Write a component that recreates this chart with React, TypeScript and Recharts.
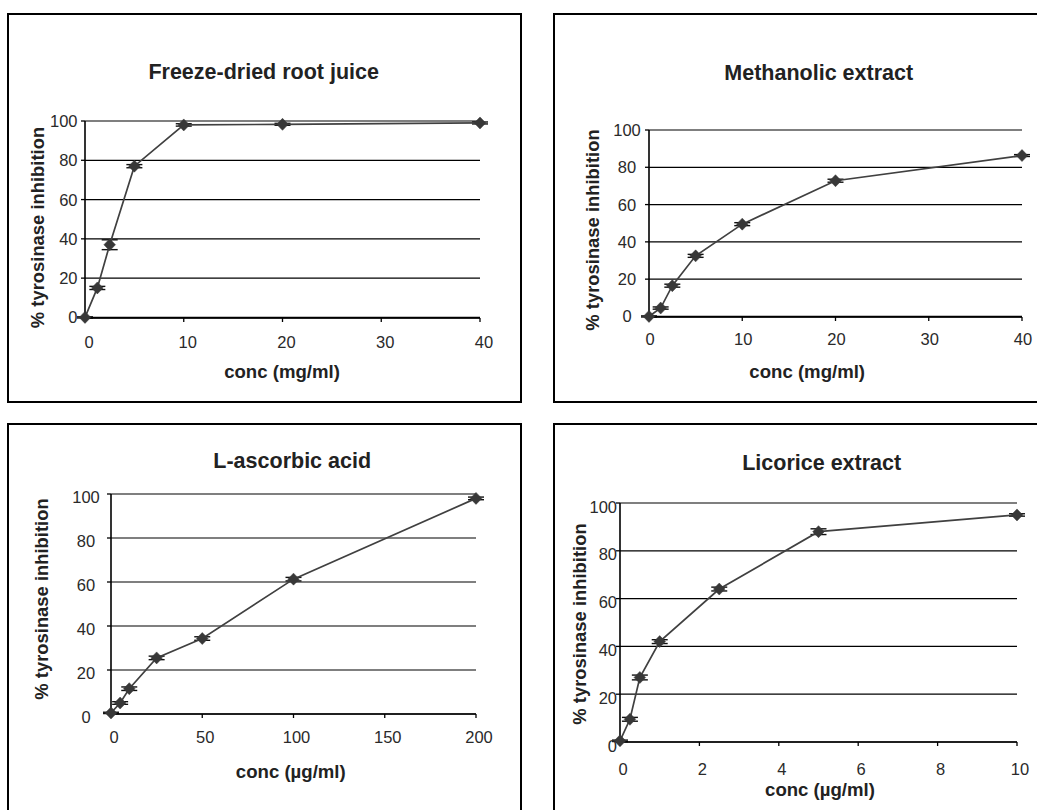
import React from 'react';
import { LineChart, Line, XAxis, YAxis, CartesianGrid, ErrorBar } from 'recharts';

// ---------- data ----------
const freezeConc = [0, 1.25, 2.5, 5, 10, 20, 40];
const freezeInhib = [0, 15, 37, 77, 98, 98.3, 99];
const freezeErr = [0.3, 0.8, 2.5, 0.8, 0.6, 0.5, 0.5];

const methConc = [0, 1.25, 2.5, 5, 10, 20, 40];
const methInhib = [0, 4.5, 16.5, 32.5, 49.5, 72.8, 86.3];
const methErr = [0.3, 0.6, 0.8, 0.8, 0.8, 0.8, 0.5];

const ascConc = [0, 5, 10, 25, 50, 100, 200];
const ascInhib = [0.5, 5, 11.5, 25.5, 34.3, 61.3, 98];
const ascErr = [0.3, 0.6, 0.8, 0.8, 0.8, 0.8, 0.6];

const licConc = [0, 0.25, 0.5, 1, 2.5, 5, 10];
const licInhib = [0.5, 9.5, 27, 42, 64, 88, 95];
const licErr = [0.3, 0.8, 1, 0.8, 0.8, 1.2, 0.5];

const mgTicks = [0, 10, 20, 30, 40];
const ascTicks = [0, 50, 100, 150, 200];
const licTicks = [0, 2, 4, 6, 8, 10];
const pctTicks = [0, 20, 40, 60, 80, 100];

const titles = ['Freeze-dried root juice', 'Methanolic extract', 'L-ascorbic acid', 'Licorice extract'];
const xTitles = ['conc (mg/ml)', 'conc (mg/ml)', 'conc (µg/ml)', 'conc (µg/ml)'];
const yTitle = '% tyrosinase inhibition';

const FONT = '"Liberation Sans", Arial, Helvetica, sans-serif';
const TXT = '#222';

const build = (xs: number[], ys: number[], es: number[]) =>
  xs.map((x, i) => ({ x, y: ys[i], err: es[i] }));

const Diamond = (props: any) => {
  const { cx, cy, index } = props;
  if (cx == null || cy == null) return null;
  return (
    <path
      key={`dm-${index}`}
      d={`M${cx},${cy - 6}L${cx + 5.8},${cy}L${cx},${cy + 6}L${cx - 5.8},${cy}Z`}
      fill="#383838"
      stroke="#383838"
      strokeWidth={0.5}
    />
  );
};

type PanelCfg = {
  data: { x: number; y: number; err: number }[];
  xTicks: number[];
  xMax: number;
  plot: { l: number; t: number; r: number; b: number };
  box: { l: number; t: number; w: number; h: number };
  xdx: number;
  xdy: number;
  yAnchor: 'end' | 'middle';
  ygap: number;
  ydy: number;
  title: string;
  titlePos: [number, number];
  xTitle: string;
  xTitlePos: [number, number];
  yTitlePos: [number, number];
};

const PAD = { l: 70, t: 20, r: 25, b: 45 };

const Panel = ({ cfg }: { cfg: PanelCfg }) => {
  const { plot } = cfg;
  const W = plot.r - plot.l + PAD.l + PAD.r;
  const H = plot.b - plot.t + PAD.t + PAD.b;
  const XTick = (p: any) => (
    <text x={p.x + cfg.xdx} y={p.y + cfg.xdy} textAnchor="middle" fontSize={16.5} fill="#2a2a2a" fontFamily={FONT}>
      {p.payload.value}
    </text>
  );
  const YTick = (p: any) => (
    <text x={p.x - cfg.ygap} y={p.y + cfg.ydy} textAnchor={cfg.yAnchor} fontSize={16.5} fill="#2a2a2a" fontFamily={FONT}>
      {p.payload.value}
    </text>
  );
  return (
    <>
      <div
        style={{
          position: 'absolute',
          left: cfg.box.l,
          top: cfg.box.t,
          width: cfg.box.w,
          height: cfg.box.h,
          border: '2px solid #000',
          boxSizing: 'border-box',
        }}
      />
      <div style={{ position: 'absolute', left: plot.l - PAD.l, top: plot.t - PAD.t, width: W, height: H }}>
        <LineChart width={W} height={H} data={cfg.data} margin={{ top: PAD.t, right: PAD.r, bottom: 0, left: 0 }}>
          <CartesianGrid vertical={false} stroke="#000" strokeWidth={1.2} />
          <XAxis
            type="number"
            dataKey="x"
            domain={[0, cfg.xMax]}
            ticks={cfg.xTicks}
            height={PAD.b}
            tickSize={4}
            tickMargin={0}
            axisLine={{ stroke: '#000', strokeWidth: 1.6 }}
            tickLine={{ stroke: '#000', strokeWidth: 1.3 }}
            tick={XTick}
            interval={0}
          />
          <YAxis
            type="number"
            domain={[0, 100]}
            ticks={pctTicks}
            width={PAD.l}
            tickSize={4}
            tickMargin={0}
            axisLine={{ stroke: '#000', strokeWidth: 1.6 }}
            tickLine={{ stroke: '#000', strokeWidth: 1.3 }}
            tick={YTick}
            interval={0}
          />
          <Line
            type="linear"
            dataKey="y"
            stroke="#404040"
            strokeWidth={1.7}
            dot={Diamond}
            activeDot={false}
            isAnimationActive={false}
          >
            <ErrorBar dataKey="err" width={8} stroke="#111" strokeWidth={1.4} direction="y" />
          </Line>
        </LineChart>
      </div>
      <svg
        style={{ position: 'absolute', left: 0, top: 0, pointerEvents: 'none' }}
        width={1037}
        height={810}
      >
        <text x={cfg.titlePos[0]} y={cfg.titlePos[1]} textAnchor="middle" fontSize={21.5} fontWeight="bold" fill={TXT} fontFamily={FONT}>
          {cfg.title}
        </text>
        <text x={cfg.xTitlePos[0]} y={cfg.xTitlePos[1]} textAnchor="middle" fontSize={18.6} fontWeight="bold" fill={TXT} fontFamily={FONT}>
          {cfg.xTitle}
        </text>
        <text
          x={cfg.yTitlePos[0]}
          y={cfg.yTitlePos[1]}
          textAnchor="middle"
          fontSize={18.4}
          fontWeight="bold"
          fill={TXT}
          fontFamily={FONT}
          transform={`rotate(-90 ${cfg.yTitlePos[0]} ${cfg.yTitlePos[1]})`}
        >
          {yTitle}
        </text>
      </svg>
    </>
  );
};

const panels: PanelCfg[] = [
  {
    data: build(freezeConc, freezeInhib, freezeErr),
    xTicks: mgTicks,
    xMax: 40,
    plot: { l: 85, t: 121, r: 480, b: 318 },
    box: { l: 7, t: 13, w: 515, h: 390 },
    xdx: 4,
    xdy: 25.7,
    yAnchor: 'end',
    ygap: 3.5,
    ydy: 6,
    title: titles[0],
    titlePos: [263.7, 78.5],
    xTitle: xTitles[0],
    xTitlePos: [282, 377.7],
    yTitlePos: [43.5, 227.5],
  },
  {
    data: build(methConc, methInhib, methErr),
    xTicks: mgTicks,
    xMax: 40,
    plot: { l: 649, t: 130, r: 1022, b: 317 },
    box: { l: 553, t: 13, w: 520, h: 390 },
    xdx: 1,
    xdy: 24,
    yAnchor: 'middle',
    ygap: 18,
    ydy: 6,
    title: titles[1],
    titlePos: [818.7, 80],
    xTitle: xTitles[1],
    xTitlePos: [807.2, 377.7],
    yTitlePos: [598.5, 230],
  },
  {
    data: build(ascConc, ascInhib, ascErr),
    xTicks: ascTicks,
    xMax: 200,
    plot: { l: 111, t: 494, r: 476, b: 714 },
    box: { l: 7, t: 423, w: 515, h: 420 },
    xdx: 3,
    xdy: 25.3,
    yAnchor: 'middle',
    ygap: 21,
    ydy: 8.5,
    title: titles[2],
    titlePos: [292.2, 468.3],
    xTitle: xTitles[2],
    xTitlePos: [290.8, 777.7],
    yTitlePos: [48, 599],
  },
  {
    data: build(licConc, licInhib, licErr),
    xTicks: licTicks,
    xMax: 10,
    plot: { l: 620, t: 503, r: 1017, b: 742 },
    box: { l: 553, t: 423, w: 520, h: 420 },
    xdx: 3,
    xdy: 29,
    yAnchor: 'end',
    ygap: -1,
    ydy: 9.5,
    title: titles[3],
    titlePos: [821.7, 470],
    xTitle: xTitles[3],
    xTitlePos: [820, 796],
    yTitlePos: [585.5, 624],
  },
];

export default function App() {
  return (
    <div
      style={{
        position: 'absolute',
        left: 0,
        top: 0,
        width: 1037,
        height: 810,
        overflow: 'hidden',
        background: '#fff',
        fontFamily: FONT,
      }}
    >
      {panels.map((p, i) => (
        <Panel key={i} cfg={p} />
      ))}
    </div>
  );
}
